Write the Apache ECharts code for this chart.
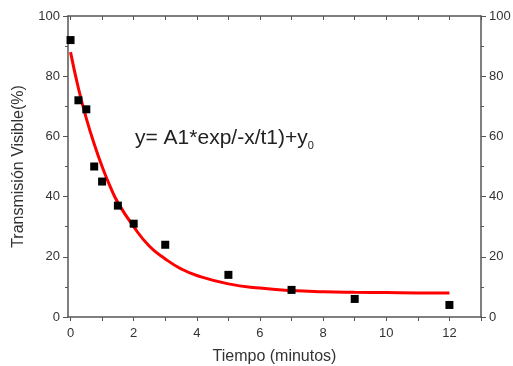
<!DOCTYPE html>
<html>
<head>
<meta charset="utf-8">
<script src="https://cdn.jsdelivr.net/npm/echarts@6/dist/echarts.min.js"></script>
<style>
  html, body { margin: 0; padding: 0; background: #fff; }
  #chart { width: 513px; height: 366px; }
</style>
</head>
<body>
<div id="chart"></div>
<script>
// measured points
const tiempo = [0, 0.25, 0.5, 0.75, 1, 1.5, 2, 3, 5, 7, 9, 12]
const transmision = [92, 72, 69, 50, 45, 37, 31, 24, 14, 9, 6, 4]

// fitted curve
const fitX = [0, 0.25, 0.5, 0.75, 1, 1.25, 1.5, 2, 2.5, 3, 3.5, 4, 5, 6, 7, 8, 9, 10, 11, 12]
const fitY = [88, 76, 66, 57.5, 50, 43.5, 38, 30, 23.5, 19.3, 16, 13.8, 11, 9.6, 8.8, 8.4, 8.2, 8.1, 8.0, 8.0]

const xLabels = [0, 2, 4, 6, 8, 10, 12]
const xTicks = [0, 1, 2, 3, 4, 5, 6, 7, 8, 9, 10, 11, 12, 13]

const chart = echarts.init(document.getElementById('chart'))
const axisColor = '#555'
const font = 'Liberation Sans, Arial'
const labelStyle = { color: '#333', fontSize: 13, fontFamily: font }
const nameStyle = { color: '#333', fontSize: 16, fontFamily: font }

const option = {
  animation: false,
  grid: { left: 68, right: 32, top: 16, bottom: 49, outerBoundsMode: 'none', containLabel: false },
  xAxis: [
    {
      type: 'value', min: -0.08, max: 13, position: 'bottom',
      name: 'Tiempo (minutos)', nameLocation: 'middle', nameGap: 32,
      nameTextStyle: nameStyle,
      axisLine: { onZero: false, lineStyle: { color: axisColor, width: 1.5 } },
      axisTick: { show: true, length: 4, lineStyle: { color: axisColor }, customValues: xTicks },
      axisLabel: Object.assign({ margin: 10, customValues: xLabels }, labelStyle),
      splitLine: { show: false }
    },
    {
      type: 'value', min: -0.08, max: 13, position: 'top',
      axisLine: { show: true, onZero: false, lineStyle: { color: axisColor, width: 1.5 } },
      axisTick: { show: true, inside: true, length: 4, lineStyle: { color: axisColor }, customValues: xTicks },
      axisLabel: { show: false },
      splitLine: { show: false }
    }
  ],
  yAxis: [
    {
      type: 'value', min: 0, max: 100, interval: 20, position: 'left',
      name: 'Transmisión Visible(%)', nameLocation: 'middle', nameGap: 41,
      nameTextStyle: nameStyle,
      axisLine: { show: true, onZero: false, lineStyle: { color: axisColor, width: 1.5 } },
      axisTick: { show: true, length: 5, lineStyle: { color: axisColor } },
      minorTick: { show: true, splitNumber: 2, length: 3, lineStyle: { color: axisColor } },
      axisLabel: Object.assign({ margin: 8 }, labelStyle),
      splitLine: { show: false }
    },
    {
      type: 'value', min: 0, max: 100, interval: 20, position: 'right',
      axisLine: { show: true, onZero: false, lineStyle: { color: axisColor, width: 1.5 } },
      axisTick: { show: true, length: 5, lineStyle: { color: axisColor } },
      minorTick: { show: true, splitNumber: 2, length: 3, lineStyle: { color: axisColor } },
      axisLabel: Object.assign({ margin: 8 }, labelStyle),
      splitLine: { show: false }
    }
  ],
  series: [
    {
      name: 'ajuste',
      type: 'line',
      smooth: true,
      showSymbol: false,
      lineStyle: { color: '#f00', width: 3 },
      data: fitX.map((x, i) => [x, fitY[i]]),
      z: 2
    },
    {
      name: 'datos',
      type: 'scatter',
      symbol: 'rect',
      symbolSize: 8,
      itemStyle: { color: '#000', opacity: 1 },
      data: tiempo.map((x, i) => [x, transmision[i]]),
      z: 3
    }
  ],
  graphic: [
    {
      type: 'text',
      left: 135,
      top: 128,
      style: {
        text: '{a|y= A1*exp/-x/t1)+y}{b|0}',
        rich: {
          a: { fontSize: 21, fill: '#222', fontFamily: font },
          b: { fontSize: 11, fill: '#222', fontFamily: font, padding: [15, 0, 0, 0] }
        }
      }
    }
  ]
}
chart.setOption(option)
</script>
</body>
</html>
